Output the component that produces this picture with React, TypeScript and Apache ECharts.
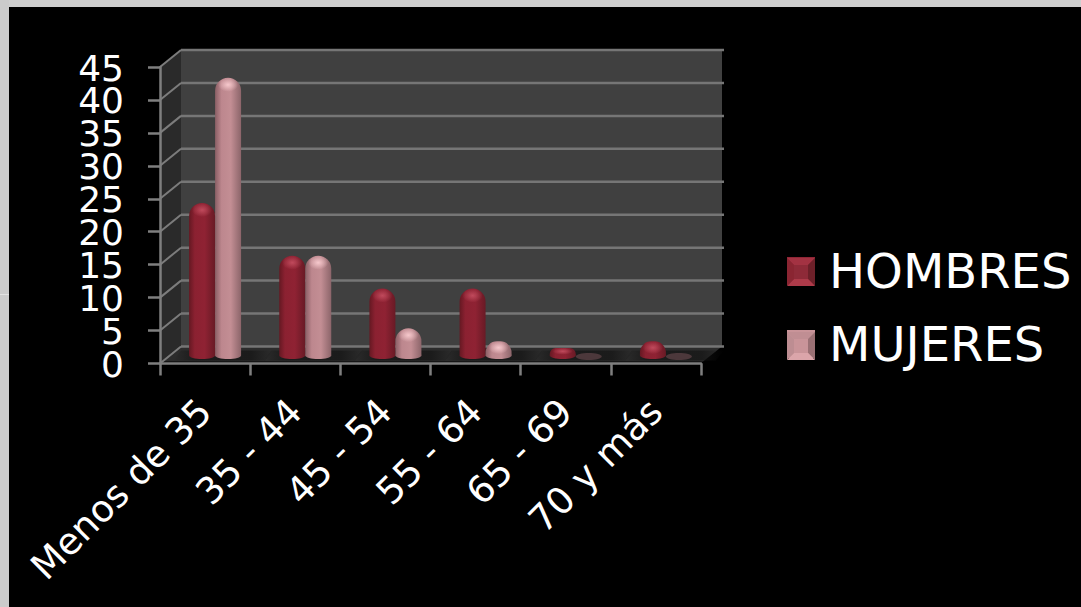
import React, { useEffect, useRef } from "react";
import * as echarts from "echarts";

const categories = ["Menos de 35", "35 - 44", "45 - 54", "55 - 64", "65 - 69", "70 y más"];
const hombres = [23, 15, 10, 10, 1, 2];
const mujeres = [42, 15, 4, 2, 0, 0];
const yTicks = [0, 5, 10, 15, 20, 25, 30, 35, 40, 45];

const DEPTH_X = 21;
const DEPTH_Y = -17;
const FONT = "'DejaVu Sans', Verdana, sans-serif";
const LG = echarts.graphic.LinearGradient;
const RG = echarts.graphic.RadialGradient;

const palette = {
  HOMBRES: {
    body: [[0, "#651822"], [0.22, "#8b2131"], [0.6, "#8f2233"], [1, "#681a25"]],
    hi: "#c04a5c",
    hi0: "rgba(192,74,92,0)",
    flat: "#8a2030",
  },
  MUJERES: {
    body: [[0, "#8a5f65"], [0.25, "#bd878e"], [0.6, "#c38e94"], [1, "#8c656a"]],
    hi: "#f6c8cc",
    hi0: "rgba(246,200,204,0)",
    flat: "#4c383b",
  },
};

function stops(a: any[]) {
  return a.map((s) => ({ offset: s[0], color: s[1] }));
}

function renderWalls(_: any, api: any) {
  const v = api.value(0);
  const [cx, y] = api.coord([0, v]);
  const band = api.size([1, 0])[0];
  const left = cx - band / 2;
  const right = left + band * categories.length;
  const children: any[] = [];
  if (v === 0) {
    const top = api.coord([0, 45])[1];
    children.push(
      { type: "polygon", shape: { points: [[left + DEPTH_X, top + DEPTH_Y], [right + DEPTH_X, top + DEPTH_Y], [right + DEPTH_X, y + DEPTH_Y], [left + DEPTH_X, y + DEPTH_Y]] }, style: { fill: "#404040" } },
      { type: "polygon", shape: { points: [[left, top], [left + DEPTH_X, top + DEPTH_Y], [left + DEPTH_X, y + DEPTH_Y], [left, y]] }, style: { fill: "#2a2a2a" } },
      { type: "polygon", shape: { points: [[left + 2, y - 2], [left + DEPTH_X, y + DEPTH_Y], [right + DEPTH_X, y + DEPTH_Y], [right + 2, y - 2]] }, style: { fill: "#2c2c2c" } },
    );
  }
  children.push(
    { type: "line", shape: { x1: left, y1: y, x2: left + DEPTH_X, y2: y + DEPTH_Y }, style: { stroke: "#7c7c7c", lineWidth: 2 } },
    { type: "line", shape: { x1: left + DEPTH_X, y1: y + DEPTH_Y, x2: right + DEPTH_X + 2, y2: y + DEPTH_Y }, style: { stroke: "#767676", lineWidth: 2.5 } },
    { type: "text", style: { text: String(v), x: left - 36, y: y + 1, align: "right", verticalAlign: "middle", fill: "#ffffff", fontSize: 36, fontFamily: FONT } },
  );
  return { type: "group", children };
}

function renderShadow(_: any, api: any) {
  const [cx, y] = api.coord([api.value(0), 0]);
  const c = cx + 10;
  return {
    type: "polygon",
    shape: { points: [[c - 42, y - 3], [c + 50, y - 3], [c + 58, y - 13], [c - 34, y - 13]] },
    style: {
      fill: new LG(0, 0, 1, 0, [
        { offset: 0, color: "rgba(20,20,20,0)" },
        { offset: 0.22, color: "rgba(20,20,20,0.7)" },
        { offset: 0.78, color: "rgba(20,20,20,0.7)" },
        { offset: 1, color: "rgba(20,20,20,0)" },
      ]),
    },
  };
}

function cylinder(name: "HOMBRES" | "MUJERES", offset: number) {
  const p = palette[name];
  return (_: any, api: any) => {
    const cat = api.value(0);
    const val = api.value(1);
    const [cx, y0] = api.coord([cat, 0]);
    const [, yv] = api.coord([cat, val]);
    const w = 26;
    const r = w / 2;
    const x = cx + 10 + offset - r;
    const base = y0 - 8;
    const top = yv - 9;
    if (val === 0) {
      return { type: "ellipse", shape: { cx: x + r, cy: base + 1, rx: r, ry: 3.5 }, style: { fill: p.flat } };
    }
    const h = Math.max(base - top, 1);
    const rr = Math.min(r, h * 0.8);
    const body = new LG(0, 0, 1, 0, stops(p.body));
    return {
      type: "group",
      children: [
        { type: "ellipse", shape: { cx: x + r, cy: base, rx: r, ry: 3.5 }, style: { fill: body } },
        { type: "rect", shape: { x, y: top, width: w, height: h, r: [rr, rr, 0, 0] }, style: { fill: body } },
        {
          type: "ellipse",
          shape: { cx: x + r, cy: top + Math.min(7, h * 0.45), rx: r - 3, ry: Math.min(7, h * 0.45) },
          style: { fill: new RG(0.5, 0.5, 0.5, [{ offset: 0, color: p.hi }, { offset: 1, color: p.hi0 }]) },
        },
      ],
    };
  };
}

function bevel(x: number, y: number, s: number, b: number, c: string[]) {
  const X = x + s;
  const Y = y + s;
  return [
    { type: "polygon", z: 100, shape: { points: [[x, y], [X, y], [X - b, y + b], [x + b, y + b]] }, style: { fill: c[0] } },
    { type: "polygon", z: 100, shape: { points: [[X, y], [X, Y], [X - b, Y - b], [X - b, y + b]] }, style: { fill: c[1] } },
    { type: "polygon", z: 100, shape: { points: [[x, Y], [X, Y], [X - b, Y - b], [x + b, Y - b]] }, style: { fill: c[2] } },
    { type: "polygon", z: 100, shape: { points: [[x, y], [x, Y], [x + b, Y - b], [x + b, y + b]] }, style: { fill: c[3] } },
    { type: "rect", z: 100, shape: { x: x + b, y: y + b, width: s - 2 * b, height: s - 2 * b }, style: { fill: c[4] } },
  ];
}

export default function App() {
  const ref = useRef<HTMLDivElement>(null);
  useEffect(() => {
    const chart = echarts.init(ref.current!, null, { renderer: "svg" });
    chart.setOption({
      animation: false,
      backgroundColor: "#000000",
      grid: { left: 160, right: 380, top: 67, bottom: 243.5, containLabel: false },
      legend: {
        orient: "vertical",
        left: 787,
        top: 247,
        padding: 0,
        data: ["HOMBRES", "MUJERES"],
        icon: "rect",
        itemWidth: 28,
        itemHeight: 28,
        itemGap: 25,
        selectedMode: false,
        textStyle: { color: "#ffffff", fontSize: 48, fontFamily: FONT, padding: [0, 0, 0, 9] },
      },
      xAxis: {
        type: "category",
        data: categories,
        z: 5,
        axisLine: { lineStyle: { color: "#7f7f7f", width: 2.5 } },
        axisTick: { show: true, length: 12, lineStyle: { color: "#7f7f7f", width: 2.5 } },
        axisLabel: { color: "#ffffff", fontSize: 37, fontFamily: FONT, rotate: 45, margin: 42, interval: 0 },
      },
      yAxis: {
        type: "value",
        min: 0,
        max: 45,
        interval: 5,
        z: 5,
        splitLine: { show: false },
        axisLine: { show: true, lineStyle: { color: "#7f7f7f", width: 2.5 } },
        axisTick: { show: true, length: 12, lineStyle: { color: "#7f7f7f", width: 2.5 } },
        axisLabel: { show: false },
      },
      series: [
        { type: "custom", name: "walls", z: 1, silent: true, renderItem: renderWalls, data: yTicks.map((v) => [v]), encode: { y: 0 } },
        { type: "custom", name: "shadow", z: 2, silent: true, renderItem: renderShadow, data: categories.map((_, i) => [i]), encode: { x: 0 } },
        { type: "custom", name: "HOMBRES", z: 3, renderItem: cylinder("HOMBRES", -13), itemStyle: { color: "#8f2535" }, data: hombres.map((v, i) => [i, v]), encode: { x: 0, y: 1 } },
        { type: "custom", name: "MUJERES", z: 4, renderItem: cylinder("MUJERES", 13), itemStyle: { color: "#c99499" }, data: mujeres.map((v, i) => [i, v]), encode: { x: 0, y: 1 } },
      ],
      graphic: [
        { type: "rect", z: 200, shape: { x: 0, y: 0, width: 1081, height: 7 }, style: { fill: "#cfcfcf" } },
        { type: "rect", z: 200, shape: { x: 0, y: 0, width: 9, height: 607 }, style: { fill: "#cbcbcb" } },
        { type: "rect", z: 201, shape: { x: 0, y: 294, width: 9, height: 1 }, style: { fill: "#e2e2e2" } },
        ...bevel(787, 258, 28, 7, ["#a33242", "#6d2029", "#ad3a49", "#8a2532", "#8e2a38"]),
        ...bevel(787, 332, 28, 7, ["#c08e93", "#9a7074", "#dba5aa", "#bd8d92", "#c99499"]),
      ],
    });
    return () => chart.dispose();
  }, []);
  return <div ref={ref} style={{ position: "absolute", left: 0, top: 0, width: 1081, height: 607 }} />;
}
